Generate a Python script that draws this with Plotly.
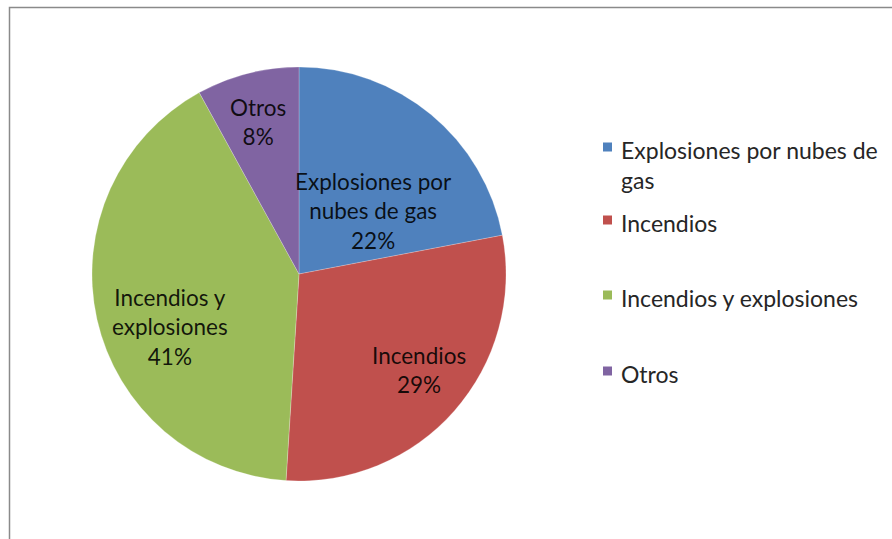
import plotly.graph_objects as go

# Share of accidents by type
categories = ["Explosiones por nubes de gas", "Incendios", "Incendios y explosiones", "Otros"]
shares = [22, 29, 41, 8]
colors = ["#4F81BD", "#C0504D", "#9BBB59", "#8064A2"]

# In-slice label wording (line breaks) and legend wording
slice_label_lines = [["Explosiones por", "nubes de gas"], ["Incendios"], ["Incendios y", "explosiones"], ["Otros"]]
legend_label_lines = [["Explosiones por nubes de", "gas"], ["Incendios"], ["Incendios y explosiones"], ["Otros"]]

W, H = 892, 539
FONT = "Lato"
FS_LABEL = 22.5
FS_LEGEND = 23
LINE = 30  # line pitch in px


def px(x):
    return x / W


def py(y):
    return 1 - y / H


# Pie geometry (pixels)
cx, cy, r = 299, 274, 207

fig = go.Figure(
    go.Pie(
        labels=categories,
        values=shares,
        sort=False,
        direction="clockwise",
        rotation=0,
        marker=dict(colors=colors, line=dict(color="rgba(255,255,255,0.45)", width=0.5)),
        textinfo="none",
        hoverinfo="label+percent",
        showlegend=False,
        domain=dict(x=[px(cx - r), px(cx + r)], y=[py(cy + r), py(cy - r)]),
    )
)

# Centres of the in-slice label blocks (pixels)
label_pos = [(373, 211), (419, 370), (170, 327), (258, 122)]

total = sum(shares)
for lines, v, (lx, ly) in zip(slice_label_lines, shares, label_pos):
    pct = f"{round(100 * v / total)}%"
    fig.add_annotation(
        x=px(lx), y=py(ly), xref="paper", yref="paper",
        text="<br>".join(lines + [pct]),
        showarrow=False, xanchor="center", yanchor="middle", align="center",
        font=dict(family=FONT, size=FS_LABEL, color="rgba(0,0,0,0.88)"),
    )

# Legend drawn by hand: first-line centres of each entry (pixels)
legend_y = [150, 223, 298, 374]
sq = 9
for lines, col, ly in zip(legend_label_lines, colors, legend_y):
    fig.add_shape(
        type="rect", xref="paper", yref="paper",
        x0=px(603), x1=px(603 + sq), y0=py(ly - 3 + sq / 2), y1=py(ly - 3 - sq / 2),
        fillcolor=col, line=dict(width=0),
    )
    block_c = ly + (len(lines) - 1) * LINE / 2
    fig.add_annotation(
        x=px(619), y=py(block_c), xref="paper", yref="paper",
        text="<br>".join(lines),
        showarrow=False, xanchor="left", yanchor="middle", align="left",
        font=dict(family=FONT, size=FS_LEGEND, color="#262626"),
    )

# Chart frame (only top and left edges fall inside the view)
fig.add_shape(
    type="rect", xref="paper", yref="paper",
    x0=px(9.5), x1=px(W + 20), y0=py(H + 20), y1=py(7.5),
    line=dict(color="#8a8a8a", width=1.5), fillcolor="rgba(0,0,0,0)", layer="above",
)

fig.update_layout(
    width=W, height=H,
    margin=dict(l=0, r=0, t=0, b=0),
    paper_bgcolor="white",
    plot_bgcolor="white",
    font=dict(family=FONT),
)

fig.write_html("out.html")
